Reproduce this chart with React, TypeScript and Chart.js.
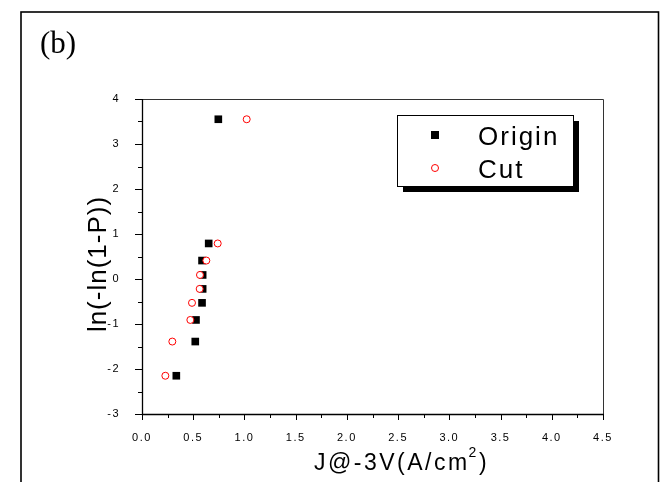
import React, { useEffect, useRef } from "react";
import { Chart, registerables } from "chart.js";
Chart.register(...registerables);

// ---- data ----
const originJ = [0.745, 0.651, 0.586, 0.592, 0.592, 0.586, 0.527, 0.52, 0.335];
const originLn = [3.55, 0.79, 0.41, 0.09, -0.22, -0.53, -0.91, -1.39, -2.15];
const cutJ = [1.022, 0.739, 0.628, 0.566, 0.563, 0.488, 0.472, 0.296, 0.228];
const cutLn = [3.55, 0.79, 0.41, 0.09, -0.22, -0.53, -0.91, -1.39, -2.15];
const seriesNames = ["Origin", "Cut"];
const xRange = [0, 4.5];
const yRange = [-3, 4];
const xMajorStep = 0.5;
const xMinorStep = 0.25;
const yMajorStep = 1;
const yMinorStep = 0.5;
const xTitleMain = "J@-3V(A/cm";
const xTitleSup = "2";
const xTitleEnd = ")";
const yTitle = "ln(-ln(1-P))";
const panelLabel = "(b)";

const SANS = "'Liberation Sans', Arial, sans-serif";
const SERIF = "'Liberation Serif', 'Times New Roman', serif";

const decorPlugin = {
  id: "decor",
  beforeDraw(chart: any) {
    (chart.ctx as any).letterSpacing = "1.5px";
  },
  afterDraw(chart: any) {
    const ctx = chart.ctx as CanvasRenderingContext2D & { letterSpacing?: string };
    const { left, right, top, bottom } = chart.chartArea;
    const xs = chart.scales.x;
    const ys = chart.scales.y;
    ctx.save();
    ctx.letterSpacing = "0px";

    // outer frame
    ctx.strokeStyle = "#000";
    ctx.lineWidth = 1.6;
    ctx.strokeRect(21, 12, 637.5, 520);

    // panel label
    ctx.fillStyle = "#000";
    ctx.font = `31px ${SERIF}`;
    ctx.textAlign = "left";
    ctx.textBaseline = "alphabetic";
    ctx.fillText(panelLabel, 40, 52.5);

    // plot box
    ctx.lineWidth = 1;
    ctx.strokeStyle = "#333";
    ctx.beginPath();
    ctx.moveTo(left, top + 0.5);
    ctx.lineTo(right + 0.5, top + 0.5);
    ctx.lineTo(right + 0.5, bottom);
    ctx.stroke();
    ctx.strokeStyle = "#000";
    ctx.lineWidth = 1.3;
    ctx.beginPath();
    ctx.moveTo(left + 0.5, top);
    ctx.lineTo(left + 0.5, bottom + 0.5);
    ctx.lineTo(right + 0.5, bottom + 0.5);
    ctx.stroke();

    // x ticks
    ctx.lineWidth = 1;
    const nx = Math.round((xRange[1] - xRange[0]) / xMinorStep);
    for (let i = 0; i <= nx; i++) {
      const v = xRange[0] + i * xMinorStep;
      const major = Math.abs(v / xMajorStep - Math.round(v / xMajorStep)) < 1e-6;
      const px = Math.round(xs.getPixelForValue(v)) + 0.5;
      ctx.beginPath();
      ctx.moveTo(px, bottom);
      ctx.lineTo(px, bottom + (major ? 6 : 4));
      ctx.stroke();
    }
    // y ticks
    const ny = Math.round((yRange[1] - yRange[0]) / yMinorStep);
    for (let i = 0; i <= ny; i++) {
      const v = yRange[0] + i * yMinorStep;
      const major = Math.abs(v / yMajorStep - Math.round(v / yMajorStep)) < 1e-6;
      const py = Math.round(ys.getPixelForValue(v)) + 0.5;
      ctx.beginPath();
      ctx.moveTo(left + 1, py);
      ctx.lineTo(left - (major ? 7 : 4), py);
      ctx.stroke();
    }

    // x title with superscript
    ctx.fillStyle = "#000";
    ctx.letterSpacing = "2.5px";
    ctx.font = `23px ${SANS}`;
    const w1 = ctx.measureText(xTitleMain).width;
    const w3 = ctx.measureText(xTitleEnd).width;
    ctx.font = `14px ${SANS}`;
    const w2 = ctx.measureText(xTitleSup).width;
    const cx = 402;
    let sx = cx - (w1 + w2 + w3) / 2;
    const base = 470;
    ctx.textAlign = "left";
    ctx.textBaseline = "alphabetic";
    ctx.font = `23px ${SANS}`;
    ctx.fillText(xTitleMain, sx, base);
    sx += w1 - 1;
    ctx.font = `14px ${SANS}`;
    ctx.fillText(xTitleSup, sx, base - 13);
    sx += w2;
    ctx.font = `23px ${SANS}`;
    ctx.fillText(xTitleEnd, sx, base);

    // y title
    ctx.save();
    ctx.translate(106, 264);
    ctx.rotate(-Math.PI / 2);
    ctx.font = `26px ${SANS}`;
    ctx.letterSpacing = "1px";
    ctx.textAlign = "center";
    ctx.fillText(yTitle, 0, 0);
    ctx.restore();

    // legend
    const lx = 397, ly = 115, lw = 176, lh = 71;
    ctx.fillStyle = "#000";
    ctx.fillRect(lx + 6, ly + 6, lw, lh);
    ctx.fillStyle = "#fff";
    ctx.fillRect(lx, ly, lw, lh);
    ctx.strokeStyle = "#000";
    ctx.lineWidth = 1;
    ctx.strokeRect(lx + 0.5, ly + 0.5, lw, lh);
    // markers
    ctx.fillStyle = "#000";
    ctx.fillRect(431, 131, 8, 8);
    ctx.strokeStyle = "#ff0000";
    ctx.lineWidth = 1;
    ctx.beginPath();
    ctx.arc(435, 168, 3.5, 0, Math.PI * 2);
    ctx.stroke();
    ctx.fillStyle = "#000";
    ctx.font = `26px ${SANS}`;
    ctx.letterSpacing = "2px";
    ctx.textAlign = "left";
    ctx.fillText(seriesNames[0], 478, 144.5);
    ctx.fillText(seriesNames[1], 478, 178);

    ctx.restore();
  },
};

export default function App() {
  const ref = useRef<HTMLCanvasElement | null>(null);
  useEffect(() => {
    if (!ref.current) return;
    const chart = new Chart(ref.current, {
      type: "scatter",
      data: {
        datasets: [
          {
            label: seriesNames[0],
            data: originJ.map((x, i) => ({ x, y: originLn[i] })),
            pointStyle: "rect",
            pointRadius: 5.4,
            backgroundColor: "#000",
            borderColor: "#000",
            borderWidth: 0,
            order: 2,
          },
          {
            label: seriesNames[1],
            data: cutJ.map((x, i) => ({ x, y: cutLn[i] })),
            pointStyle: "circle",
            pointRadius: 3.5,
            backgroundColor: "#fff",
            borderColor: "#ff0000",
            borderWidth: 1,
            order: 1,
          },
        ],
      },
      options: {
        responsive: false,
        animation: false,
        devicePixelRatio: 1,
        layout: { padding: { left: 0, top: 99, right: 64, bottom: 0 } },
        plugins: { legend: { display: false }, tooltip: { enabled: false } },
        scales: {
          x: {
            type: "linear",
            min: xRange[0],
            max: xRange[1],
            border: { display: false },
            grid: { display: false },
            ticks: {
              stepSize: xMajorStep,
              padding: 9.5,
              color: "#000",
              font: { family: SANS, size: 11 },
              callback: (v: any) => Number(v).toFixed(1),
            },
            afterFit: (s: any) => {
              s.height = 68;
            },
          },
          y: {
            type: "linear",
            min: yRange[0],
            max: yRange[1],
            border: { display: false },
            grid: { display: false },
            ticks: {
              stepSize: yMajorStep,
              padding: 14,
              color: "#000",
              font: { family: SANS, size: 11 },
              callback: (v: any) => String(v),
            },
            afterFit: (s: any) => {
              s.width = 142;
            },
          },
        },
      },
      plugins: [decorPlugin],
    });
    return () => chart.destroy();
  }, []);
  return (
    <div style={{ position: "fixed", left: 0, top: 0, width: 667, height: 482, background: "#fff" }}>
      <canvas ref={ref} width={667} height={482} style={{ display: "block" }} />
    </div>
  );
}
